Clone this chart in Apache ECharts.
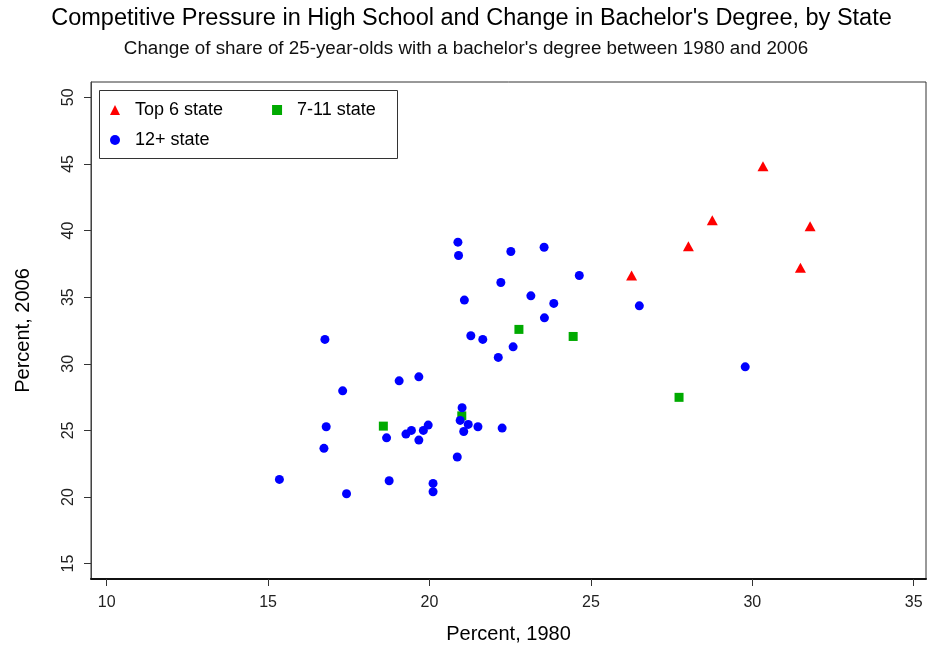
<!DOCTYPE html>
<html>
<head>
<meta charset="utf-8">
<script src="https://cdn.jsdelivr.net/npm/echarts@6/dist/echarts.min.js"></script>
<style>
html,body{margin:0;padding:0;background:#fff;}
#chart{width:927px;height:654px;}
</style>
</head>
<body>
<div id="chart"></div>
<script>
// ---- data ----
const titleText = "Competitive Pressure in High School and Change in Bachelor's Degree, by State";
const subtitleText = "Change of share of 25-year-olds with a bachelor's degree between 1980 and 2006";
const xAxisTitle = "Percent, 1980";
const yAxisTitle = "Percent, 2006";
const seriesNames = ["Top 6 state", "7-11 state", "12+ state"];

const top6X = [30.33, 28.76, 31.79, 28.02, 26.26, 31.49];
const top6Y = [44.83, 40.78, 40.33, 38.83, 36.62, 37.20];

const mid5X = [18.57, 21.00, 22.77, 24.45, 27.73];
const mid5Y = [25.32, 26.09, 32.58, 32.05, 27.48];

const restX = [16.76, 21.28, 21.65, 22.13, 19.06, 19.67, 17.31, 16.80, 16.73, 15.35,
               17.43, 18.75, 20.11, 20.11, 18.67, 19.27, 19.44, 19.81, 19.96, 19.67,
               20.86, 21.01, 20.95, 21.20, 21.06, 21.50, 22.25, 20.88, 20.90, 22.52,
               23.55, 24.64, 26.50, 22.21, 21.08, 23.14, 23.85, 23.56, 22.59, 29.78];
const restY = [31.83, 32.10, 31.83, 30.48, 28.72, 29.02, 27.97, 25.27, 23.65, 21.32,
               20.24, 21.22, 21.02, 20.39, 24.44, 24.72, 25.00, 25.00, 25.40, 24.27,
               23.00, 26.70, 25.75, 25.45, 24.92, 25.27, 25.17, 39.13, 38.13, 38.43,
               38.75, 36.63, 34.35, 36.10, 34.78, 35.10, 34.53, 33.45, 31.27, 29.77];

const xTicks = [10, 15, 20, 25, 30, 35];
const yTicks = [15, 20, 25, 30, 35, 40, 45, 50];

const zip = (xs, ys) => xs.map((x, i) => [x, ys[i]]);
const FONT = "'Liberation Sans', Arial, sans-serif";

const legendText = {fontSize: 18, color: '#000', fontFamily: FONT, padding: [0, 0, 0, 10]};

const chart = echarts.init(document.getElementById('chart'), null, {renderer: 'canvas'});
chart.setOption({
  backgroundColor: '#ffffff',
  animation: false,
  grid: {
    left: 91, right: 1, top: 82, bottom: 75,
    show: true, borderColor: '#333', borderWidth: 1, containLabel: false
  },
  xAxis: {
    type: 'value', min: 9.514, max: 35.38,
    name: xAxisTitle, nameLocation: 'middle', nameGap: 45,
    nameTextStyle: {fontSize: 20, color: '#000', fontFamily: FONT},
    axisLine: {show: true, onZero: false, lineStyle: {color: '#111', width: 2}},
    axisTick: {show: true, inside: false, length: 7, customValues: xTicks, lineStyle: {color: '#333'}},
    axisLabel: {show: true, customValues: xTicks, margin: 16, fontSize: 16, color: '#222', fontFamily: FONT},
    splitLine: {show: false}
  },
  yAxis: {
    type: 'value', min: 13.845, max: 51.15,
    name: yAxisTitle, nameLocation: 'middle', nameGap: 58,
    nameTextStyle: {fontSize: 20, color: '#000', fontFamily: FONT},
    axisLine: {show: true, onZero: false, lineStyle: {color: '#444', width: 1}},
    axisTick: {show: true, inside: false, length: 7, customValues: yTicks, lineStyle: {color: '#333'}},
    axisLabel: {show: true, customValues: yTicks, rotate: 90, margin: 14, fontSize: 16, color: '#222', fontFamily: FONT},
    splitLine: {show: false}
  },
  legend: [
    {
      data: [seriesNames[0], seriesNames[1]],
      left: 110, top: 101, padding: 0, itemGap: 49,
      itemWidth: 10, itemHeight: 10, itemStyle: {borderWidth: 0, opacity: 1},
      textStyle: legendText
    },
    {
      data: [seriesNames[2]],
      left: 110, top: 131, padding: 0,
      itemWidth: 10, itemHeight: 10, itemStyle: {borderWidth: 0, opacity: 1},
      textStyle: legendText
    }
  ],
  graphic: [
    {type: 'text', x: 471.5, y: 19, style: {text: titleText, fontSize: 23.5, fill: '#000', fontFamily: FONT, align: 'center', verticalAlign: 'middle'}},
    {type: 'text', x: 466, y: 49, style: {text: subtitleText, fontSize: 18.8, fill: '#111', fontFamily: FONT, align: 'center', verticalAlign: 'middle'}},
    {type: 'rect', shape: {x: 99.5, y: 90.5, width: 298, height: 68}, style: {fill: 'none', stroke: '#333', lineWidth: 1}, z: 10}
  ],
  series: [
    {name: seriesNames[0], type: 'scatter', symbol: 'triangle', symbolSize: [11, 10],
     itemStyle: {color: '#FF0000', opacity: 1}, data: zip(top6X, top6Y)},
    {name: seriesNames[1], type: 'scatter', symbol: 'rect', symbolSize: 9,
     itemStyle: {color: '#00AA00', opacity: 1}, data: zip(mid5X, mid5Y)},
    {name: seriesNames[2], type: 'scatter', symbol: 'circle', symbolSize: 9,
     itemStyle: {color: '#0000FF', opacity: 1}, data: zip(restX, restY)}
  ]
});
</script>
</body>
</html>
